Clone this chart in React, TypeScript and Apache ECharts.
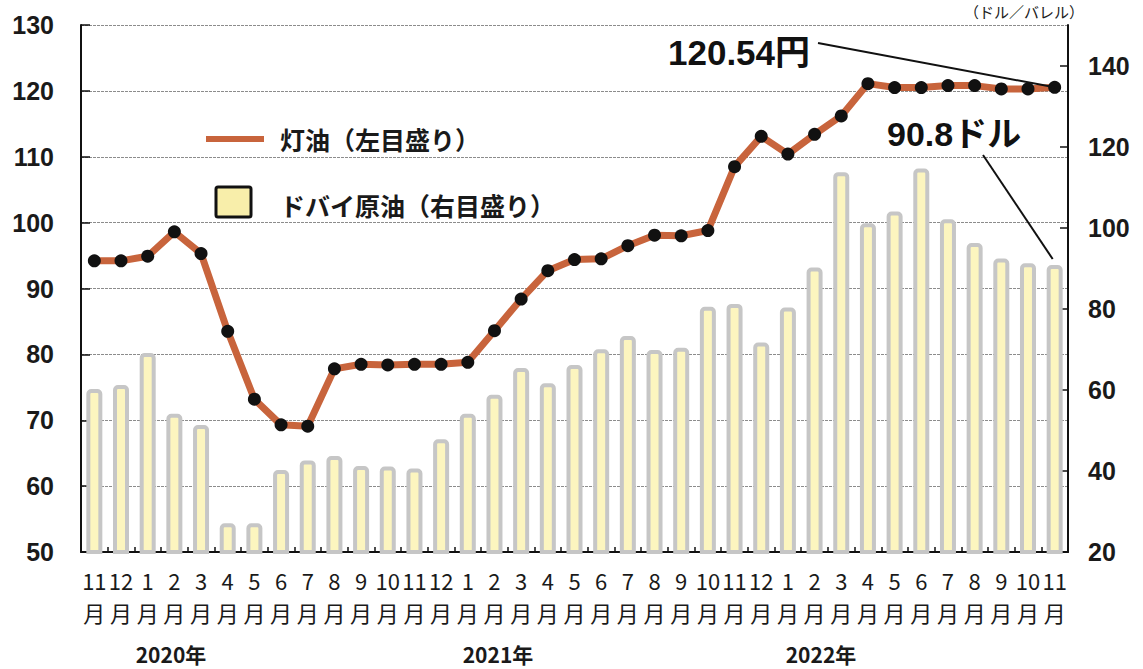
import React, { useEffect, useRef } from "react";
import * as echarts from "echarts";

const months = [
  "11", "12",
  "1", "2", "3", "4", "5", "6", "7", "8", "9", "10", "11", "12",
  "1", "2", "3", "4", "5", "6", "7", "8", "9", "10", "11", "12",
  "1", "2", "3", "4", "5", "6", "7", "8", "9", "10", "11",
];

// 灯油 (円, 左目盛り)
const kerosene = [
  94.2, 94.2,
  94.9, 98.6, 95.3, 83.5, 73.2, 69.3, 69.1, 77.8, 78.5, 78.4, 78.5, 78.5,
  78.8, 83.6, 88.4, 92.7, 94.4, 94.5, 96.5, 98.1, 98.0, 98.8, 108.5, 113.1,
  110.4, 113.4, 116.2, 121.1, 120.5, 120.5, 120.8, 120.8, 120.3, 120.3, 120.54,
];

// ドバイ原油 (ドル/バレル, 右目盛り)
const dubai = [
  60.2, 61.2,
  69.1, 54.1, 51.3, 27.1, 27.1, 40.2, 42.6, 43.7, 41.2, 41.1, 40.6, 47.8,
  54.1, 58.8, 65.4, 61.6, 66.1, 70.0, 73.3, 69.8, 70.4, 80.5, 81.2, 71.7,
  80.3, 90.2, 113.7, 101.1, 104.0, 114.6, 102.1, 96.2, 92.4, 91.2, 90.8,
];

const years = [
  { label: "2020年", center: 171 },
  { label: "2021年", center: 498 },
  { label: "2022年", center: 821 },
];

const keroseneLabel = "120.54円";
const dubaiLabel = "90.8ドル";

const NUM_FONT = "'Liberation Sans', Arial, 'Noto Sans CJK JP', sans-serif";
const JP_FONT = "'Noto Sans CJK JP', 'Noto Sans', sans-serif";

export default function App() {
  const ref = useRef<HTMLDivElement>(null);

  useEffect(() => {
    if (!ref.current) return;
    const chart = echarts.init(ref.current, null, { renderer: "svg" });

    const option: any = {
      animation: false,
      backgroundColor: "#ffffff",
      grid: { left: 81, right: 75, top: 25, bottom: 117, containLabel: false },
      xAxis: {
        type: "category",
        data: months,
        boundaryGap: true,
        axisLine: { show: true, lineStyle: { color: "#111", width: 2 } },
        axisTick: { show: true, inside: true, length: 5, lineStyle: { color: "#111", width: 1.5 } },
        axisLabel: {
          interval: 0,
          margin: 12,
          formatter: (v: string) => `${v}\n月`,
          fontFamily: JP_FONT,
          fontSize: 22,
          lineHeight: 32,
          color: "#1a1a1a",
        },
        splitLine: { show: false },
      },
      yAxis: [
        {
          type: "value",
          min: 50,
          max: 130,
          interval: 10,
          position: "left",
          axisLine: { show: true, lineStyle: { color: "#111", width: 2 } },
          axisTick: { show: true, inside: true, length: 9, lineStyle: { color: "#111", width: 1.5 } },
          axisLabel: {
            margin: 27,
            fontFamily: NUM_FONT,
            fontSize: 25,
            fontWeight: "bold",
            color: "#1a1a1a",
          },
          splitLine: { show: true, lineStyle: { color: "#8c8c8c", width: 1, type: [3, 1] } },
        },
        {
          type: "value",
          min: 20,
          max: 150,
          interval: 20,
          position: "right",
          axisLine: { show: true, lineStyle: { color: "#111", width: 2 } },
          axisTick: { show: true, inside: true, length: 8, lineStyle: { color: "#111", width: 1.5 } },
          axisLabel: {
            margin: 20,
            showMaxLabel: false,
            fontFamily: NUM_FONT,
            fontSize: 25,
            fontWeight: "bold",
            color: "#1a1a1a",
          },
          splitLine: { show: false },
        },
      ],
      series: [
        {
          name: "ドバイ原油（右目盛り）",
          type: "bar",
          yAxisIndex: 1,
          data: dubai,
          barWidth: 16,
          itemStyle: {
            color: "#fcf5bf",
            borderColor: "#c6c6c6",
            borderWidth: 4,
            borderRadius: [3, 3, 0, 0],
          },
          z: 2,
        },
        {
          name: "灯油（左目盛り）",
          type: "line",
          yAxisIndex: 0,
          data: kerosene,
          symbol: "circle",
          symbolSize: 13,
          lineStyle: { color: "#c8643c", width: 7 },
          itemStyle: { color: "#111111", borderWidth: 0 },
          z: 5,
        },
      ],
    };

    chart.setOption(option);

    const last = months.length - 1;
    const pK = chart.convertToPixel({ xAxisIndex: 0, yAxisIndex: 0 } as any, [last, kerosene[last]]) as number[];
    const pD = chart.convertToPixel({ xAxisIndex: 0, yAxisIndex: 1 } as any, [last, dubai[last]]) as number[];

    const graphic: any[] = [
      // right axis unit
      {
        type: "text",
        left: 964,
        top: 4,
        style: { text: "（ドル／バレル）", font: `15px ${JP_FONT}`, fill: "#1a1a1a" },
        z: 10,
      },
      // legend: kerosene
      {
        type: "rect",
        shape: { x: 206, y: 136, width: 58, height: 6 },
        style: { fill: "#c8643c" },
        z: 10,
      },
      {
        type: "text",
        x: 280,
        y: 139,
        style: {
          text: "灯油（左目盛り）",
          font: `bold 25px ${JP_FONT}`,
          fill: "#1a1a1a",
          verticalAlign: "middle",
        },
        z: 10,
      },
      // legend: dubai
      {
        type: "rect",
        shape: { x: 216, y: 187, width: 35, height: 30, r: 2 },
        style: { fill: "#f8eeaa", stroke: "#111", lineWidth: 3 },
        z: 10,
      },
      {
        type: "text",
        x: 280,
        y: 205,
        style: {
          text: "ドバイ原油（右目盛り）",
          font: `bold 25px ${JP_FONT}`,
          fill: "#1a1a1a",
          verticalAlign: "middle",
        },
        z: 10,
      },
      // annotations
      {
        type: "text",
        x: 668,
        y: 52,
        style: {
          text: keroseneLabel,
          font: `bold 35px ${NUM_FONT}`,
          fill: "#111",
          verticalAlign: "middle",
        },
        z: 10,
      },
      {
        type: "line",
        shape: { x1: 818, y1: 43, x2: pK[0], y2: pK[1] },
        style: { stroke: "#111", lineWidth: 2 },
        z: 10,
      },
      {
        type: "text",
        x: 887,
        y: 134,
        style: {
          text: dubaiLabel,
          font: `bold 34px ${NUM_FONT}`,
          fill: "#111",
          verticalAlign: "middle",
        },
        z: 10,
      },
      {
        type: "line",
        shape: { x1: 983, y1: 155, x2: pD[0] - 2, y2: pD[1] - 6 },
        style: { stroke: "#111", lineWidth: 2 },
        z: 10,
      },
    ];

    years.forEach((y) => {
      graphic.push({
        type: "text",
        x: y.center,
        y: 654,
        style: {
          text: y.label,
          font: `bold 21px ${JP_FONT}`,
          fill: "#1a1a1a",
          align: "center",
          verticalAlign: "middle",
        },
        z: 10,
      });
    });

    chart.setOption({ graphic });

    return () => {
      chart.dispose();
    };
  }, []);

  return (
    <div
      ref={ref}
      style={{ position: "fixed", left: 0, top: 0, width: 1143, height: 669, background: "#fff" }}
    />
  );
}
